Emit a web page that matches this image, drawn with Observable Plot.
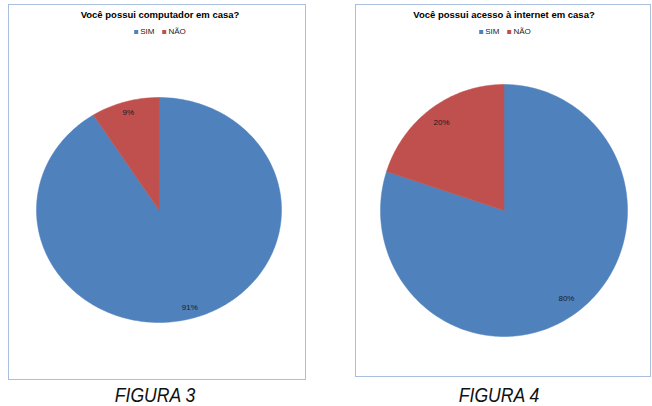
<!DOCTYPE html>
<html>
<head>
<meta charset="utf-8">
<script src="https://cdn.jsdelivr.net/npm/d3@7"></script>
<script src="https://cdn.jsdelivr.net/npm/@observablehq/plot@0.6"></script>
<style>
  html, body { margin: 0; padding: 0; background: #fff; }
  #page { position: relative; width: 652px; height: 406px; overflow: hidden; font-family: "Liberation Sans", Arial, sans-serif; }
  .box { position: absolute; border: 1px solid #a9bfdc; box-sizing: border-box; }
  .title { position: absolute; font-weight: bold; font-size: 9.5px; line-height: 9px; white-space: nowrap; transform: translateX(-50%); color: #000; }
  .legend { position: absolute; font-size: 8px; line-height: 8px; white-space: nowrap; transform: translateX(-50%); color: #222; display: flex; align-items: center; }
  .legend span.sw { display: inline-block; width: 4px; height: 4px; margin-right: 2px; }
  .legend span.it { margin-right: 8px; }
  .caption { position: absolute; font-style: italic; font-size: 20px; line-height: 16px; white-space: nowrap; transform: translateX(-50%) scaleX(0.88); color: #111; }
  .pie { position: absolute; }
</style>
</head>
<body>
<div id="page"></div>
<script>
// ---- data ----
const categories = ["SIM", "NÃO"];
const computador = [91, 9];
const internet = [80, 20];
const titles = ["Você possui computador em casa?", "Você possui acesso à internet em casa?"];
const captions = ["FIGURA 3", "FIGURA 4"];
const colors = ["#4f81bd", "#c0504d"];

// ---- layout ----
const panels = [
  { values: computador, title: titles[0], caption: captions[0],
    box: { l: 8, t: 4, r: 306, b: 380 }, pie: { cx: 158.5, cy: 209.5, rx: 122.5, ry: 112.5 },
    labelR: 0.9, titleX: 160, legendX: 160, captionX: 155 },
  { values: internet, title: titles[1], caption: captions[1],
    box: { l: 355, t: 4, r: 651, b: 377 }, pie: { cx: 503.5, cy: 210, rx: 123.5, ry: 126 },
    labelR: 0.86, titleX: 504, legendX: 505, captionX: 499 }
];

const page = document.getElementById("page");

function el(cls, style, html) {
  const d = document.createElement("div");
  d.className = cls;
  Object.assign(d.style, style);
  if (html != null) d.innerHTML = html;
  page.appendChild(d);
  return d;
}

for (const p of panels) {
  el("box", { left: p.box.l + "px", top: p.box.t + "px", width: (p.box.r - p.box.l) + "px", height: (p.box.b - p.box.t) + "px" });
  el("title", { left: p.titleX + "px", top: "10px" }).textContent = p.title;
  const lg = el("legend", { left: p.legendX + "px", top: "27.5px" });
  categories.forEach((c, i) => {
    const sw = document.createElement("span"); sw.className = "sw"; sw.style.background = colors[i];
    const t = document.createElement("span"); t.className = "it"; t.textContent = c;
    if (i === categories.length - 1) t.style.marginRight = "0";
    lg.appendChild(sw); lg.appendChild(t);
  });
  el("caption", { left: p.captionX + "px", top: "386.5px" }).textContent = p.caption;

  // pie geometry from values
  const rows = p.values.map((v, i) => ({ cat: categories[i], v }));
  const arcs = d3.pie().sort(null).value(d => d.v)(rows);
  const pts = [];
  const labels = [];
  for (const a of arcs) {
    pts.push({ cat: a.data.cat, x: 0, y: 0 });
    const n = Math.max(2, Math.ceil((a.endAngle - a.startAngle) / (Math.PI / 180)));
    for (let k = 0; k <= n; k++) {
      const ang = a.startAngle + (a.endAngle - a.startAngle) * k / n;
      pts.push({ cat: a.data.cat, x: Math.sin(ang), y: Math.cos(ang) });
    }
    pts.push({ cat: a.data.cat, x: 0, y: 0 });
    const mid = (a.startAngle + a.endAngle) / 2;
    labels.push({ x: p.labelR * Math.sin(mid), y: p.labelR * Math.cos(mid), text: a.data.v + "%" });
  }

  const chart = Plot.plot({
    width: 2 * p.pie.rx,
    height: 2 * p.pie.ry,
    margin: 0,
    x: { domain: [-1, 1], axis: null },
    y: { domain: [-1, 1], axis: null },
    color: { domain: categories, range: colors },
    style: { overflow: "visible", background: "transparent" },
    marks: [
      Plot.line(pts, { x: "x", y: "y", z: "cat", fill: "cat", stroke: "cat", strokeWidth: 0.5, curve: "linear" }),
      Plot.text(labels, { x: "x", y: "y", text: "text", fontSize: 8, fill: "#1a1a1a", fontFamily: "Liberation Sans, Arial, sans-serif" })
    ]
  });
  const wrap = el("pie", { left: (p.pie.cx - p.pie.rx) + "px", top: (p.pie.cy - p.pie.ry) + "px" });
  wrap.appendChild(chart);
}
</script>
</body>
</html>
